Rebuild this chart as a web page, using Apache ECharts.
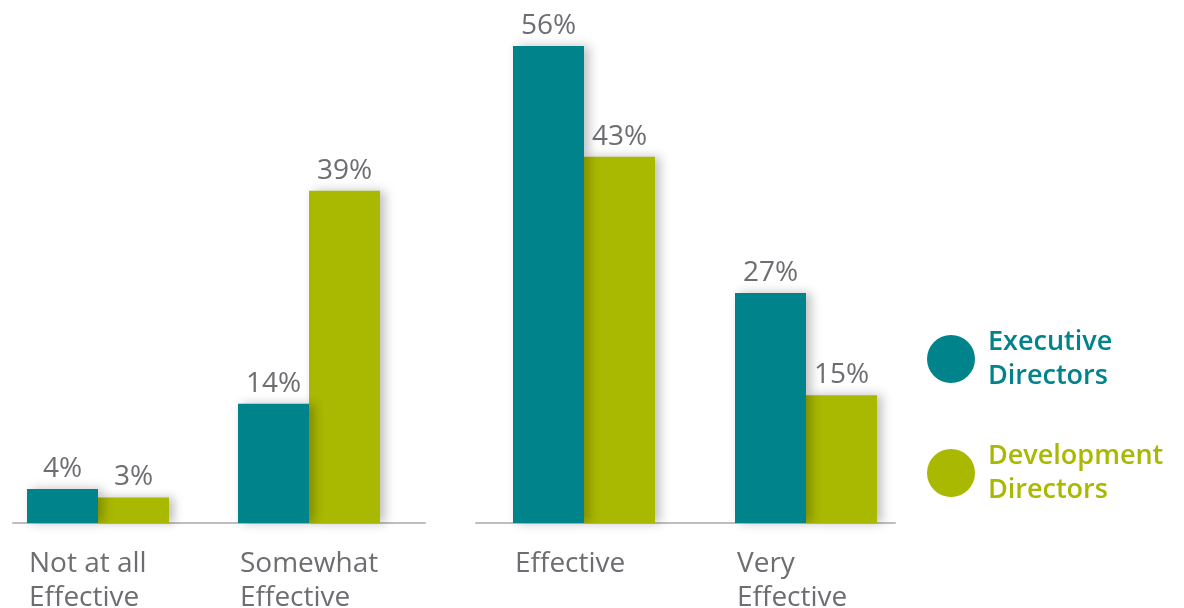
<!DOCTYPE html>
<html>
<head>
<meta charset="utf-8">
<script src="https://cdn.jsdelivr.net/npm/echarts@6/dist/echarts.min.js"></script>
<style>html,body{margin:0;padding:0;background:#fff;overflow:hidden}#c{width:1184px;height:608px}</style>
</head>
<body>
<div id="c"></div>
<script>
const categoriesA = ['Not at all\nEffective', 'Somewhat\nEffective'];
const categoriesB = ['Effective', 'Very\nEffective'];
const seriesNames = ['Executive Directors', 'Development Directors'];
const execA = [4, 14];
const devA = [3, 39];
const execB = [56, 27];
const devB = [43, 15];

const TEAL = '#00838A';
const OLIVE = '#A9B800';
const GREY = '#6D6E71';
const FONT = 'Open Sans';

const chart = echarts.init(document.getElementById('c'));

function catLabel() {
  return {
    interval: 0,
    margin: 24,
    color: GREY,
    fontFamily: FONT,
    fontSize: 28,
    formatter: v => v.split('\n').map(s => '{a|' + s + '}').join('\n'),
    rich: { a: { width: 138, align: 'left', lineHeight: 34, color: GREY, fontFamily: FONT, fontSize: 28 } }
  };
}
function barSeries(name, data, idx, color, z) {
  return {
    type: 'bar', name, data, xAxisIndex: idx, yAxisIndex: idx,
    barWidth: 71, barGap: '0%', clip: false, z,
    itemStyle: { color, shadowColor: 'rgba(0,0,0,0.25)', shadowBlur: 10, shadowOffsetX: 5, shadowOffsetY: 0 },
    label: { show: true, position: 'top', distance: 6, formatter: '{c}%', color: GREY, fontFamily: FONT, fontSize: 28 }
  };
}
const hiddenY = i => ({ type: 'value', gridIndex: i, min: 0, max: 56, show: false });
const lineX = i => ({ type: 'value', gridIndex: i, min: 0, max: 1,
  axisLine: { show: true, lineStyle: { color: '#BCBEC0', width: 2 } },
  axisTick: { show: false }, axisLabel: { show: false }, splitLine: { show: false } });
const gridBox = (left, width) => ({ left, width, top: 46, bottom: 85, containLabel: false, outerBoundsMode: 'none' });

chart.setOption({
  animation: false,
  grid: [gridBox(98, 211), gridBox(584, 222), gridBox(13, 412), gridBox(476, 419)],
  xAxis: [
    { type: 'category', gridIndex: 0, data: categoriesA, boundaryGap: false,
      axisLine: { show: false }, axisTick: { show: false }, axisLabel: catLabel() },
    { type: 'category', gridIndex: 1, data: categoriesB, boundaryGap: false,
      axisLine: { show: false }, axisTick: { show: false }, axisLabel: catLabel() },
    lineX(2), lineX(3)
  ],
  yAxis: [hiddenY(0), hiddenY(1), { type: 'value', gridIndex: 2, show: false }, { type: 'value', gridIndex: 3, show: false }],
  legend: {
    orient: 'vertical', left: 922, top: 320, itemWidth: 64, itemHeight: 48, itemGap: 46,
    icon: 'circle',
    formatter: n => n.replace(' ', '\n'),
    textStyle: { fontFamily: FONT, fontSize: 27, fontWeight: 600, lineHeight: 34 },
    data: [
      { name: seriesNames[0], textStyle: { color: TEAL } },
      { name: seriesNames[1], textStyle: { color: OLIVE } }
    ]
  },
  series: [
    barSeries(seriesNames[0], execA, 0, TEAL, 3),
    barSeries(seriesNames[1], devA, 0, OLIVE, 2),
    barSeries(seriesNames[0], execB, 1, TEAL, 3),
    barSeries(seriesNames[1], devB, 1, OLIVE, 2)
  ]
});
</script>
</body>
</html>
